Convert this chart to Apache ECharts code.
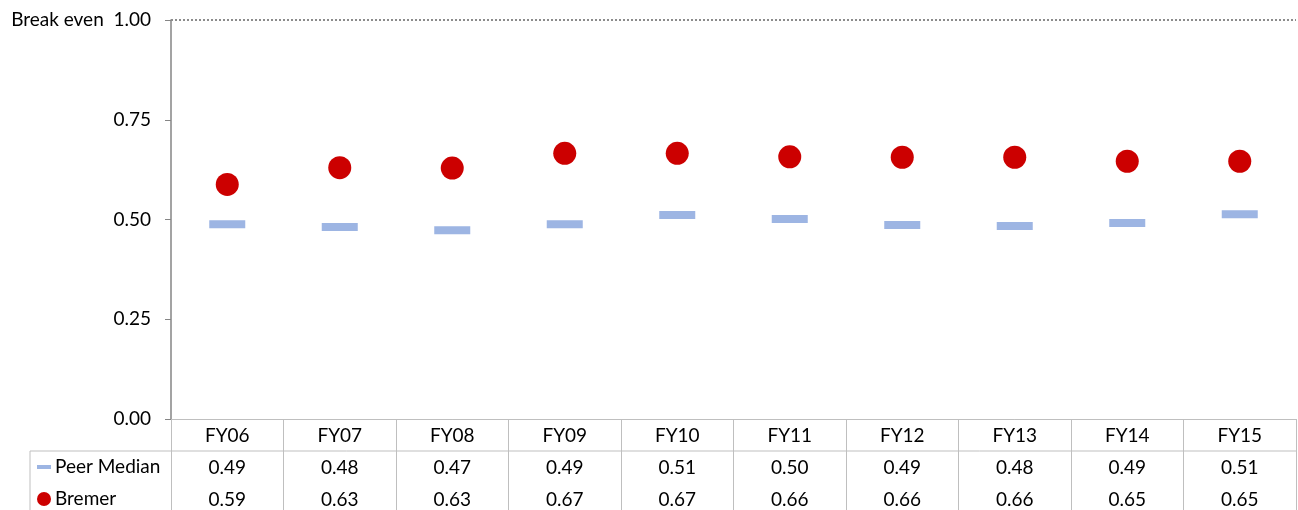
<!DOCTYPE html>
<html>
<head>
<meta charset="utf-8">
<script src="https://cdn.jsdelivr.net/npm/echarts@6/dist/echarts.min.js"></script>
<style>
html,body{margin:0;padding:0;background:#fff;}
#chart{width:1298px;height:510px;}
</style>
</head>
<body>
<div id="chart"></div>
<script>
const categories = ['FY06','FY07','FY08','FY09','FY10','FY11','FY12','FY13','FY14','FY15'];
const peerMedian = [0.488,0.481,0.473,0.488,0.511,0.501,0.486,0.484,0.491,0.513];
const bremer = [0.588,0.630,0.629,0.666,0.666,0.657,0.656,0.656,0.646,0.646];
const yTicks = [0, 0.25, 0.5, 0.75, 1];
const breakEven = 1.0;

const FONT = 'Lato, "Open Sans", sans-serif';
const FS = 19;
const GL = 171, GR = 2, GT = 20, GB = 91;
const W = 1298, H = 510;
const ROW = 32;
const tableTop = H - GB + ROW; // 451

const chart = echarts.init(document.getElementById('chart'), null, {renderer: 'canvas'});
chart.setOption({
  animation: false,
  grid: {left: GL, right: GR, top: GT, bottom: GB, containLabel: false, outerBoundsMode: 'none'},
  xAxis: {
    type: 'category',
    data: categories,
    boundaryGap: true,
    axisLine: {show: true, lineStyle: {color: '#bfbfbf', width: 1}},
    axisTick: {show: true, interval: 0, length: GB, lineStyle: {color: '#bfbfbf', width: 1}},
    axisLabel: {
      interval: 0,
      margin: 1,
      color: '#000',
      fontFamily: FONT,
      fontSize: FS,
      lineHeight: ROW,
      formatter: function (v, i) {
        return v + '\n' + peerMedian[i].toFixed(2) + '\n' + bremer[i].toFixed(2);
      }
    },
    splitLine: {show: false}
  },
  yAxis: {
    type: 'value',
    min: yTicks[0],
    max: yTicks[yTicks.length - 1],
    interval: 0.25,
    axisLine: {show: true, lineStyle: {color: '#858585', width: 1.5}},
    axisTick: {show: true, length: 6, lineStyle: {color: '#858585', width: 1}},
    splitLine: {show: false},
    axisLabel: {
      margin: 20,
      color: '#000',
      fontFamily: FONT,
      fontSize: FS,
      formatter: function (v) {
        return v === breakEven ? 'Break even  ' + v.toFixed(2) : v.toFixed(2);
      }
    }
  },
  series: [
    {
      name: 'Peer Median',
      type: 'scatter',
      data: peerMedian,
      symbol: 'rect',
      symbolSize: [36, 8],
      itemStyle: {color: '#9db5e3', opacity: 1},
      markLine: {
        silent: true,
        symbol: 'none',
        label: {show: false},
        lineStyle: {type: [2, 2], color: '#8c8c8c', width: 2},
        data: [{yAxis: breakEven}]
      }
    },
    {
      name: 'Bremer',
      type: 'scatter',
      data: bremer,
      symbol: 'circle',
      symbolSize: 23,
      itemStyle: {color: '#cc0000', opacity: 1}
    }
  ],
  graphic: [
    {type: 'line', shape: {x1: 30, y1: tableTop, x2: W - GR, y2: tableTop}, style: {stroke: '#bfbfbf', lineWidth: 1}},
    {type: 'line', shape: {x1: 30, y1: tableTop, x2: 30, y2: H}, style: {stroke: '#bfbfbf', lineWidth: 1}},
    {type: 'rect', shape: {x: 37, y: tableTop + ROW / 2 - 2, width: 14, height: 4}, style: {fill: '#9db5e3'}},
    {type: 'text', x: 55, y: tableTop + ROW / 2, style: {text: 'Peer Median', font: FS + 'px ' + FONT, fill: '#000', verticalAlign: 'middle'}},
    {type: 'circle', shape: {cx: 44, cy: tableTop + ROW * 1.5, r: 7}, style: {fill: '#cc0000'}},
    {type: 'text', x: 55, y: tableTop + ROW * 1.5, style: {text: 'Bremer', font: FS + 'px ' + FONT, fill: '#000', verticalAlign: 'middle'}}
  ]
});
</script>
</body>
</html>
